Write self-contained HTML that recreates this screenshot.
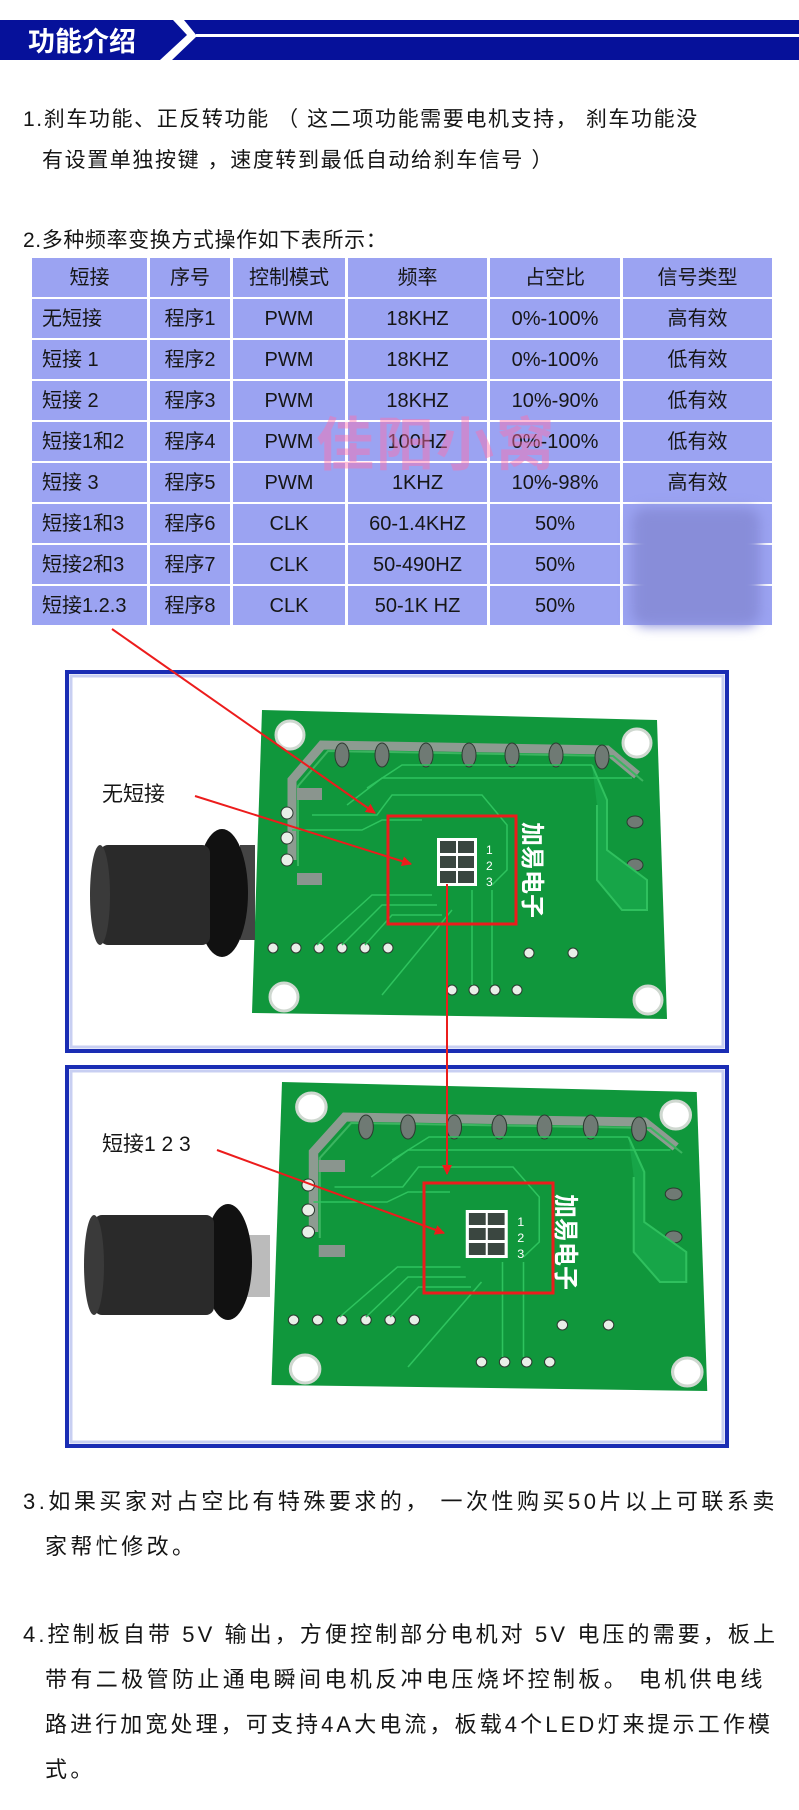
<!DOCTYPE html>
<html><head><meta charset="utf-8">
<style>
*{margin:0;padding:0;box-sizing:border-box}
body{width:799px;height:1810px;background:#fff;position:relative;overflow:hidden;font-family:"Liberation Sans","Noto Sans CJK SC",sans-serif;color:#151515}
.t{position:absolute;white-space:nowrap;font-size:21px;line-height:26px;letter-spacing:1.6px}
.c{position:absolute;background:#9ba3f2;display:flex;align-items:center;justify-content:center;font-size:20px;line-height:22px;color:#161616;white-space:nowrap;height:39px}
.l{justify-content:flex-start;padding-left:10px}
</style></head><body>

<svg style="position:absolute;left:0;top:0" width="799" height="80">
<polygon points="0,20 173,20 187,35 160,60 0,60" fill="#06119a"/>
<polygon points="184,20 799,20 799,60 172,60 197,36" fill="#06119a"/>
<rect x="196" y="34" width="603" height="3" fill="#fff"/>
<text x="28" y="51" fill="#fff" font-size="27" font-weight="bold" font-family="Liberation Sans,Noto Sans CJK SC,sans-serif">功能介绍</text>
</svg>

<div class="t" style="left:23px;top:107px">1.刹车功能、正反转功能 （ 这二项功能需要电机支持， 刹车功能没</div>
<div class="t" style="left:42px;top:148px">有设置单独按键 ，速度转到最低自动给刹车信号 ）</div>
<div class="t" style="left:23px;top:228px;letter-spacing:0.6px">2.多种频率变换方式操作如下表所示：</div>

<div class="c" style="left:32px;top:258px;width:115px">短接</div>
<div class="c" style="left:150px;top:258px;width:80px">序号</div>
<div class="c" style="left:233px;top:258px;width:112px">控制模式</div>
<div class="c" style="left:348px;top:258px;width:139px">频率</div>
<div class="c" style="left:490px;top:258px;width:130px">占空比</div>
<div class="c" style="left:623px;top:258px;width:149px">信号类型</div>

<div class="c l" style="left:32px;top:299px;width:115px">无短接</div>
<div class="c" style="left:150px;top:299px;width:80px">程序1</div>
<div class="c" style="left:233px;top:299px;width:112px">PWM</div>
<div class="c" style="left:348px;top:299px;width:139px">18KHZ</div>
<div class="c" style="left:490px;top:299px;width:130px">0%-100%</div>
<div class="c" style="left:623px;top:299px;width:149px">高有效</div>

<div class="c l" style="left:32px;top:340px;width:115px">短接 1</div>
<div class="c" style="left:150px;top:340px;width:80px">程序2</div>
<div class="c" style="left:233px;top:340px;width:112px">PWM</div>
<div class="c" style="left:348px;top:340px;width:139px">18KHZ</div>
<div class="c" style="left:490px;top:340px;width:130px">0%-100%</div>
<div class="c" style="left:623px;top:340px;width:149px">低有效</div>

<div class="c l" style="left:32px;top:381px;width:115px">短接 2</div>
<div class="c" style="left:150px;top:381px;width:80px">程序3</div>
<div class="c" style="left:233px;top:381px;width:112px">PWM</div>
<div class="c" style="left:348px;top:381px;width:139px">18KHZ</div>
<div class="c" style="left:490px;top:381px;width:130px">10%-90%</div>
<div class="c" style="left:623px;top:381px;width:149px">低有效</div>

<div class="c l" style="left:32px;top:422px;width:115px">短接1和2</div>
<div class="c" style="left:150px;top:422px;width:80px">程序4</div>
<div class="c" style="left:233px;top:422px;width:112px">PWM</div>
<div class="c" style="left:348px;top:422px;width:139px">100HZ</div>
<div class="c" style="left:490px;top:422px;width:130px">0%-100%</div>
<div class="c" style="left:623px;top:422px;width:149px">低有效</div>

<div class="c l" style="left:32px;top:463px;width:115px">短接 3</div>
<div class="c" style="left:150px;top:463px;width:80px">程序5</div>
<div class="c" style="left:233px;top:463px;width:112px">PWM</div>
<div class="c" style="left:348px;top:463px;width:139px">1KHZ</div>
<div class="c" style="left:490px;top:463px;width:130px">10%-98%</div>
<div class="c" style="left:623px;top:463px;width:149px">高有效</div>

<div class="c l" style="left:32px;top:504px;width:115px">短接1和3</div>
<div class="c" style="left:150px;top:504px;width:80px">程序6</div>
<div class="c" style="left:233px;top:504px;width:112px">CLK</div>
<div class="c" style="left:348px;top:504px;width:139px">60-1.4KHZ</div>
<div class="c" style="left:490px;top:504px;width:130px">50%</div>
<div class="c" style="left:623px;top:504px;width:149px"></div>

<div class="c l" style="left:32px;top:545px;width:115px">短接2和3</div>
<div class="c" style="left:150px;top:545px;width:80px">程序7</div>
<div class="c" style="left:233px;top:545px;width:112px">CLK</div>
<div class="c" style="left:348px;top:545px;width:139px">50-490HZ</div>
<div class="c" style="left:490px;top:545px;width:130px">50%</div>
<div class="c" style="left:623px;top:545px;width:149px"></div>

<div class="c l" style="left:32px;top:586px;width:115px">短接1.2.3</div>
<div class="c" style="left:150px;top:586px;width:80px">程序8</div>
<div class="c" style="left:233px;top:586px;width:112px">CLK</div>
<div class="c" style="left:348px;top:586px;width:139px">50-1K HZ</div>
<div class="c" style="left:490px;top:586px;width:130px">50%</div>
<div class="c" style="left:623px;top:586px;width:149px"></div>

<div style="position:absolute;left:632px;top:508px;width:128px;height:118px;background:#888dd9;filter:blur(6px);border-radius:14px"></div>
<div style="position:absolute;left:316px;top:408px;font-size:58px;font-weight:bold;color:rgba(255,110,170,0.45);letter-spacing:2px;font-family:'Noto Sans CJK SC',sans-serif;line-height:64px">佳阳小窝</div>

<svg style="position:absolute;left:0;top:0" width="799" height="1810">
<defs>
<marker id="ah" markerWidth="10" markerHeight="10" refX="9" refY="5" orient="auto" markerUnits="userSpaceOnUse" viewBox="0 0 10 10"><path d="M0,0 L10,5 L0,10 Z" fill="#ec1c1c"/></marker>
<g id="board">
<polygon points="0,0 395,10 405,309 -10,303" fill="#10973c"/>
<path d="M30,150 L30,70 L60,35 L345,40 L375,65" stroke="#8d9b91" stroke-width="9" fill="none"/>
<path d="M30,150 L30,70 L60,35 L345,40 L375,65" stroke="#3bb560" stroke-width="2" fill="none" transform="translate(6,6)"/>
<circle cx="28" cy="25" r="14" fill="#fff" stroke="#cfd8d0" stroke-width="3"/>
<circle cx="375" cy="33" r="14" fill="#fff" stroke="#cfd8d0" stroke-width="3"/>
<circle cx="22" cy="287" r="14" fill="#fff" stroke="#cfd8d0" stroke-width="3"/>
<circle cx="386" cy="290" r="14" fill="#fff" stroke="#cfd8d0" stroke-width="3"/>
<g fill="#6f7a74" stroke="#2c3a30" stroke-width="1">
<ellipse cx="80" cy="45" rx="7" ry="12"/><ellipse cx="120" cy="45" rx="7" ry="12"/><ellipse cx="164" cy="45" rx="7" ry="12"/><ellipse cx="207" cy="45" rx="7" ry="12"/><ellipse cx="250" cy="45" rx="7" ry="12"/><ellipse cx="294" cy="45" rx="7" ry="12"/><ellipse cx="340" cy="47" rx="7" ry="12"/>
<ellipse cx="373" cy="112" rx="8" ry="6"/><ellipse cx="373" cy="155" rx="8" ry="6"/>
</g>
<path d="M330,55 L345,90 L345,140 L385,170 L385,200 L360,200 L335,170 L335,95" fill="#17a548" stroke="#2fc05e" stroke-width="2"/>
<g fill="#e8efe8" stroke="#2c3a30"><circle cx="11" cy="238" r="5"/><circle cx="34" cy="238" r="5"/><circle cx="57" cy="238" r="5"/><circle cx="80" cy="238" r="5"/><circle cx="103" cy="238" r="5"/><circle cx="126" cy="238" r="5"/><circle cx="190" cy="280" r="5"/><circle cx="212" cy="280" r="5"/><circle cx="233" cy="280" r="5"/><circle cx="255" cy="280" r="5"/><circle cx="267" cy="243" r="5"/><circle cx="311" cy="243" r="5"/><circle cx="25" cy="103" r="6"/><circle cx="25" cy="128" r="6"/><circle cx="25" cy="150" r="6"/></g>
<rect x="35" y="78" width="25" height="12" fill="#8a958e"/><rect x="35" y="163" width="25" height="12" fill="#8a958e"/>
<g stroke="#2ec35e" stroke-width="1.5" fill="none">
<path d="M105,78 L140,55 L330,55"/><path d="M85,95 L120,68 L370,68"/>
<path d="M50,105 L115,105 L130,85 L180,85 L220,85 L245,115 L245,160 L230,175"/>
<path d="M30,120 L100,120 L120,110 L160,110"/>
<path d="M55,235 L110,185 L170,185"/><path d="M80,235 L120,195 L175,195"/><path d="M103,235 L130,205 L180,205"/>
<path d="M210,180 L210,275"/><path d="M230,180 L230,275"/><path d="M120,285 L190,200"/>
</g>
<rect x="175" y="128" width="40" height="48" fill="#fff"/>
<g fill="#3a4640"><rect x="178" y="131" width="16" height="12"/><rect x="196" y="131" width="16" height="12"/><rect x="178" y="146" width="16" height="12"/><rect x="196" y="146" width="16" height="12"/><rect x="178" y="161" width="16" height="12"/><rect x="196" y="161" width="16" height="12"/></g>
<text x="224" y="144" fill="#fff" font-size="12" font-family="Liberation Sans,sans-serif">1</text>
<text x="224" y="160" fill="#fff" font-size="12" font-family="Liberation Sans,sans-serif">2</text>
<text x="224" y="176" fill="#fff" font-size="12" font-family="Liberation Sans,sans-serif">3</text>
<text transform="translate(262,112) rotate(90)" fill="#fff" font-size="24" font-weight="bold" font-family="Noto Sans CJK SC,sans-serif">加易电子</text>
</g>
</defs>

<rect x="67" y="672" width="660" height="379" fill="none" stroke="#1a2db4" stroke-width="4"/>
<rect x="71" y="676" width="652" height="371" fill="none" stroke="#c8cff2" stroke-width="3"/>
<rect x="67" y="1067" width="660" height="379" fill="none" stroke="#1a2db4" stroke-width="4"/>
<rect x="71" y="1071" width="652" height="371" fill="none" stroke="#c8cff2" stroke-width="3"/>

<use href="#board" transform="translate(262,710)"/>
<use href="#board" transform="translate(282,1082) scale(1.05,1)"/>

<rect x="240" y="845" width="15" height="95" fill="#444"/>
<ellipse cx="222" cy="893" rx="26" ry="64" fill="#111"/>
<rect x="100" y="845" width="110" height="100" rx="8" fill="#2a2a2a"/>
<ellipse cx="100" cy="895" rx="10" ry="50" fill="#3a3a3a"/>
<rect x="240" y="1235" width="30" height="62" fill="#bbb"/>
<rect x="205" y="1248" width="40" height="40" fill="#111"/>
<ellipse cx="228" cy="1262" rx="24" ry="58" fill="#111"/>
<rect x="94" y="1215" width="120" height="100" rx="8" fill="#2a2a2a"/>
<ellipse cx="94" cy="1265" rx="10" ry="50" fill="#3a3a3a"/>

<rect x="388" y="816" width="128" height="108" fill="none" stroke="#ec1c1c" stroke-width="3"/>
<rect x="424" y="1183" width="129" height="110" fill="none" stroke="#ec1c1c" stroke-width="3"/>

<g stroke="#ec1c1c" stroke-width="2" fill="none">
<line x1="112" y1="629" x2="375" y2="813" marker-end="url(#ah)"/>
<line x1="195" y1="796" x2="411" y2="864" marker-end="url(#ah)"/>
<line x1="447" y1="884" x2="447" y2="1174" marker-end="url(#ah)"/>
<line x1="217" y1="1150" x2="444" y2="1233" marker-end="url(#ah)"/>
</g>
<rect x="96" y="778" width="86" height="30" fill="#fff" opacity="0.85"/>
<text x="102" y="801" font-size="21" fill="#151515" font-family="Liberation Sans,Noto Sans CJK SC,sans-serif">无短接</text>
<rect x="96" y="1128" width="118" height="30" fill="#fff" opacity="0.85"/>
<text x="102" y="1151" font-size="21" fill="#151515" font-family="Liberation Sans,Noto Sans CJK SC,sans-serif">短接1 2 3</text>
</svg>

<div class="t" style="left:23px;top:1489px;font-size:22px;letter-spacing:3.5px">3.如果买家对占空比有特殊要求的， 一次性购买50片以上可联系卖</div>
<div class="t" style="left:45px;top:1534px;font-size:22px;letter-spacing:3.4px">家帮忙修改。</div>
<div class="t" style="left:23px;top:1622px;font-size:22px;letter-spacing:3.1px">4.控制板自带 5V 输出，方便控制部分电机对 5V 电压的需要，板上</div>
<div class="t" style="left:45px;top:1667px;font-size:22px;letter-spacing:3.4px">带有二极管防止通电瞬间电机反冲电压烧坏控制板。 电机供电线</div>
<div class="t" style="left:45px;top:1712px;font-size:22px;letter-spacing:3.1px">路进行加宽处理，可支持4A大电流，板载4个LED灯来提示工作模</div>
<div class="t" style="left:45px;top:1757px;font-size:22px;letter-spacing:3.4px">式。</div>
</body></html>
